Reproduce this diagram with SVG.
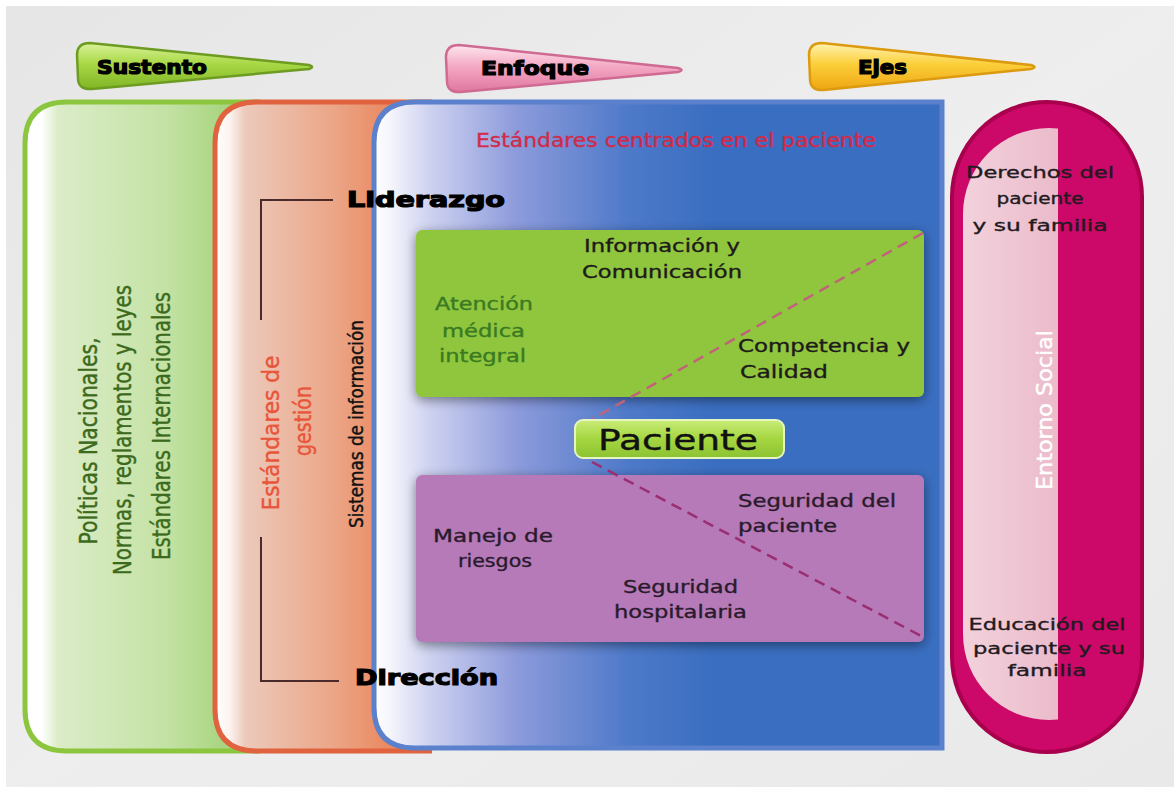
<svg xmlns="http://www.w3.org/2000/svg" width="1174" height="787" viewBox="0 0 1174 787">
<defs>
<style>
.t{font-family:"DejaVu Sans","Liberation Sans",sans-serif;fill:#1e1a1a;stroke:#1e1a1a;stroke-width:0.35;}
.heavy{font-family:"DejaVu Sans","Liberation Sans",sans-serif;font-weight:bold;fill:#000;stroke:#000;stroke-width:1.2;}
.cond{font-family:"DejaVu Sans Condensed","DejaVu Sans","Liberation Sans",sans-serif;stroke-width:0.4;}
.box{font-size:17px;}
.cap{font-size:16px;fill:#221a20;stroke:#221a20;}
</style>
<linearGradient id="gBg" x1="0" y1="0" x2="1" y2="1">
<stop offset="0" stop-color="#e6e6e6"/><stop offset="0.5" stop-color="#eeeeee"/><stop offset="1" stop-color="#e9e9e9"/>
</linearGradient>
<linearGradient id="gGreen" gradientUnits="userSpaceOnUse" x1="25" y1="0" x2="260" y2="0">
<stop offset="0" stop-color="#ffffff"/><stop offset="0.07" stop-color="#ffffff"/><stop offset="0.14" stop-color="#dbecc8"/><stop offset="0.6" stop-color="#c4e2a4"/><stop offset="0.85" stop-color="#a8d580"/><stop offset="1" stop-color="#a4d47c"/>
</linearGradient>
<linearGradient id="gOrange" gradientUnits="userSpaceOnUse" x1="215" y1="0" x2="430" y2="0">
<stop offset="0" stop-color="#ffffff"/><stop offset="0.07" stop-color="#fbf3ef"/><stop offset="0.14" stop-color="#ecc9bb"/><stop offset="0.55" stop-color="#eba687"/><stop offset="0.8" stop-color="#ea8a62"/><stop offset="1" stop-color="#ea8a62"/>
</linearGradient>
<linearGradient id="gBlue" gradientUnits="userSpaceOnUse" x1="374" y1="0" x2="942" y2="0">
<stop offset="0" stop-color="#ffffff"/><stop offset="0.03" stop-color="#f4f4fb"/><stop offset="0.1" stop-color="#cdd1f0"/><stop offset="0.25" stop-color="#8d9bdb"/><stop offset="0.45" stop-color="#4d79c9"/><stop offset="0.6" stop-color="#3a6ec0"/><stop offset="1" stop-color="#3a6ec0"/>
</linearGradient>
<linearGradient id="gPinkIn" x1="0" y1="0" x2="1" y2="0">
<stop offset="0" stop-color="#f2d2dc"/><stop offset="0.6" stop-color="#ebb9c9"/><stop offset="1" stop-color="#e29ab4"/>
</linearGradient>
<linearGradient id="gPat" x1="0" y1="0" x2="0" y2="1">
<stop offset="0" stop-color="#c9ec78"/><stop offset="0.5" stop-color="#a5d640"/><stop offset="1" stop-color="#8cc232"/>
</linearGradient>
<linearGradient id="pSus" x1="0" y1="0" x2="0" y2="1">
<stop offset="0" stop-color="#d9f29a"/><stop offset="0.45" stop-color="#a9d846"/><stop offset="1" stop-color="#7fb524"/>
</linearGradient>
<linearGradient id="pEnf" x1="0" y1="0" x2="0" y2="1">
<stop offset="0" stop-color="#fde6ee"/><stop offset="0.45" stop-color="#f4a9c4"/><stop offset="1" stop-color="#e0769e"/>
</linearGradient>
<linearGradient id="pEje" x1="0" y1="0" x2="0" y2="1">
<stop offset="0" stop-color="#fff3b0"/><stop offset="0.45" stop-color="#fbcf3a"/><stop offset="1" stop-color="#eea612"/>
</linearGradient>
<filter id="sh" x="-10%" y="-20%" width="120%" height="140%">
<feGaussianBlur in="SourceAlpha" stdDeviation="6"/><feOffset dx="0" dy="3"/>
<feComponentTransfer><feFuncA type="linear" slope="0.45"/></feComponentTransfer>
<feMerge><feMergeNode/><feMergeNode in="SourceGraphic"/></feMerge>
</filter>
<clipPath id="cStrip"><rect x="900" y="100" width="158" height="700"/></clipPath>
</defs>

<rect x="0" y="0" width="1174" height="787" fill="#ffffff"/>
<rect x="6" y="6" width="1168" height="781" fill="url(#gBg)"/>

<g id="banner-sustento">
<path d="M90 43 L309 65 Q315 67 309 69 L92 89 Q78 90 78 78 L77 55 Q77 43 90 43 Z" fill="url(#pSus)" stroke="#6e9c22" stroke-width="2.5"/>
<text class="heavy" x="97" y="74" font-size="19" textLength="110" lengthAdjust="spacingAndGlyphs">Sustento</text>
</g>
<g id="banner-enfoque">
<path d="M459 45 L678 68 Q685 70 678 72 L461 92 Q447 93 447 81 L446 57 Q446 45 459 45 Z" fill="url(#pEnf)" stroke="#cf6a93" stroke-width="2.5"/>
<text class="heavy" x="481" y="75" font-size="19" textLength="108" lengthAdjust="spacingAndGlyphs">Enfoque</text>
</g>
<g id="banner-ejes">
<path d="M822 43 L1031 65 Q1038 67 1031 69 L824 90 Q810 91 810 79 L809 55 Q809 43 822 43 Z" fill="url(#pEje)" stroke="#dc9a10" stroke-width="2.5"/>
<text class="heavy" x="858" y="74" font-size="19" textLength="49" lengthAdjust="spacingAndGlyphs">Ejes</text>
</g>

<g id="panel-sustento">
<path d="M67 102 H260 V751 H67 Q25 751 25 709 V144 Q25 102 67 102 Z" fill="url(#gGreen)"/>
<path d="M260 102 H67 Q25 102 25 144 V709 Q25 751 67 751 H260" fill="none" stroke="#8cc63f" stroke-width="5"/>
<g class="cond" fill="#3c6a1c" stroke="#3c6a1c" font-size="25">
<text transform="translate(97,441) rotate(-90)" text-anchor="middle" textLength="207" lengthAdjust="spacingAndGlyphs">Políticas Nacionales,</text>
<text transform="translate(131,430) rotate(-90)" text-anchor="middle" textLength="290" lengthAdjust="spacingAndGlyphs">Normas, reglamentos y leyes</text>
<text transform="translate(170,426) rotate(-90)" text-anchor="middle" textLength="268" lengthAdjust="spacingAndGlyphs">Estándares Internacionales</text>
</g>
</g>

<g id="panel-gestion">
<path d="M257 102 H432 V751 H257 Q215 751 215 709 V144 Q215 102 257 102 Z" fill="url(#gOrange)"/>
<path d="M432 102 H257 Q215 102 215 144 V709 Q215 751 257 751 H432" fill="none" stroke="#e0623e" stroke-width="5"/>
<g class="cond" font-size="23" fill="#e8553a" stroke="#e8553a">
<text transform="translate(279,433) rotate(-90)" text-anchor="middle" textLength="155" lengthAdjust="spacingAndGlyphs">Estándares de</text>
<text transform="translate(311,421) rotate(-90)" text-anchor="middle" textLength="70" lengthAdjust="spacingAndGlyphs">gestión</text>
</g>
<text class="cond" transform="translate(363,424) rotate(-90)" text-anchor="middle" font-size="19" fill="#111" stroke="#111" textLength="208" lengthAdjust="spacingAndGlyphs">Sistemas de información</text>
</g>

<g id="panel-enfoque">
<path d="M415 102 H942 V748 H415 Q374 748 374 707 V143 Q374 102 415 102 Z" fill="url(#gBlue)" stroke="#5b80cc" stroke-width="5"/>
<text x="476" y="147" font-family="DejaVu Sans,Liberation Sans,sans-serif" font-size="19" fill="#d12a4a" stroke="#d12a4a" stroke-width="0.35" textLength="400" lengthAdjust="spacingAndGlyphs">Estándares centrados en el paciente</text>
</g>

<g id="connectors" fill="none">
<path d="M333 200 H261 V320" stroke="#4a2a2a" stroke-width="2"/>
<path d="M261 537 V681 H339" stroke="#4a2a2a" stroke-width="2"/>
</g>

<g id="label-liderazgo">
<text class="heavy" x="347" y="207" font-size="21" textLength="158" lengthAdjust="spacingAndGlyphs">Liderazgo</text>
</g>
<g id="label-direccion">
<text class="heavy" x="355" y="685" font-size="21" textLength="143" lengthAdjust="spacingAndGlyphs">Dirección</text>
</g>

<g id="box-green">
<rect x="416" y="230" width="508" height="167" rx="6" fill="#8fc63e" filter="url(#sh)"/>
<g class="t box">
<text x="584" y="252" textLength="156" lengthAdjust="spacingAndGlyphs">Información y</text>
<text x="582" y="278" textLength="160" lengthAdjust="spacingAndGlyphs">Comunicación</text>
<text x="738" y="352" textLength="172" lengthAdjust="spacingAndGlyphs">Competencia y</text>
<text x="740" y="378" textLength="88" lengthAdjust="spacingAndGlyphs">Calidad</text>
</g>
<g class="t box" style="fill:#3a7a22;stroke:#3a7a22">
<text x="435" y="310" textLength="98" lengthAdjust="spacingAndGlyphs">Atención</text>
<text x="442" y="337" textLength="83" lengthAdjust="spacingAndGlyphs">médica</text>
<text x="439" y="362" textLength="87" lengthAdjust="spacingAndGlyphs">integral</text>
</g>
</g>

<g id="box-purple">
<rect x="416" y="475" width="508" height="167" rx="6" fill="#b67ab8" filter="url(#sh)"/>
<g class="t box" style="fill:#2a1a2c;stroke:#2a1a2c">
<text x="738" y="507" textLength="158" lengthAdjust="spacingAndGlyphs">Seguridad del</text>
<text x="738" y="532" textLength="99" lengthAdjust="spacingAndGlyphs">paciente</text>
<text x="433" y="542" textLength="120" lengthAdjust="spacingAndGlyphs">Manejo de</text>
<text x="458" y="567" textLength="74" lengthAdjust="spacingAndGlyphs">riesgos</text>
<text x="623" y="593" textLength="115" lengthAdjust="spacingAndGlyphs">Seguridad</text>
<text x="614" y="618" textLength="133" lengthAdjust="spacingAndGlyphs">hospitalaria</text>
</g>
</g>

<g id="dashes" fill="none" stroke-width="2.5" stroke-dasharray="11 7">
<path d="M923 233 L592 419" stroke="#c0637a"/>
<path d="M592 462 L923 637" stroke="#9a2e72"/>
</g>

<g id="node-paciente">
<rect x="575" y="420" width="209" height="38" rx="8" fill="url(#gPat)" stroke="#e6f6c0" stroke-width="2"/>
<text x="598" y="450" font-family="DejaVu Sans,Liberation Sans,sans-serif" font-size="28" fill="#111" stroke="#111" stroke-width="0.4" textLength="160" lengthAdjust="spacingAndGlyphs">Paciente</text>
</g>

<g id="panel-ejes">
<rect x="952" y="102" width="190" height="650" rx="95" fill="#cc0868" stroke="#a8004c" stroke-width="4"/>
<rect x="963" y="128" width="172" height="592" rx="86" fill="url(#gPinkIn)" clip-path="url(#cStrip)"/>
<g class="t cap" text-anchor="middle">
<text x="1040" y="178" textLength="148" lengthAdjust="spacingAndGlyphs">Derechos del</text>
<text x="1040" y="204" textLength="87" lengthAdjust="spacingAndGlyphs">paciente</text>
<text x="1040" y="231" textLength="135" lengthAdjust="spacingAndGlyphs">y su familia</text>
<text x="1047" y="630" textLength="157" lengthAdjust="spacingAndGlyphs">Educación del</text>
<text x="1049" y="654" textLength="152" lengthAdjust="spacingAndGlyphs">paciente y su</text>
<text x="1047" y="676" textLength="79" lengthAdjust="spacingAndGlyphs">familia</text>
</g>
<text class="cond" transform="translate(1052,410) rotate(-90)" text-anchor="middle" font-size="22" fill="#ffffff" stroke="#ffffff" textLength="160" lengthAdjust="spacingAndGlyphs">Entorno Social</text>
</g>
</svg>
